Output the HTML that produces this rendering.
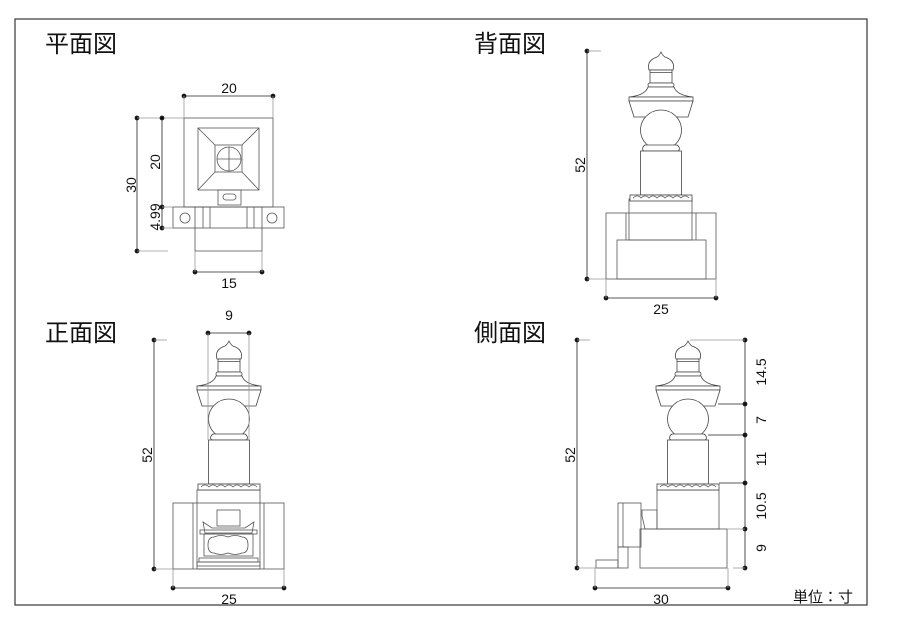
<!DOCTYPE html>
<html><head><meta charset="utf-8"><style>
html,body{margin:0;padding:0;background:#fff}
svg{display:block}
text{font-family:"Liberation Sans","Noto Sans CJK JP",sans-serif;fill:#111}
.t{font-size:24px}
.d{font-size:14px}
</style></head><body>
<svg width="900" height="637" viewBox="0 0 900 637" xmlns="http://www.w3.org/2000/svg">
<defs>
<g id="top" fill="#fff" stroke="#444" stroke-width="0.8">
<path d="M-12,19 C-14,12 -10,8 -4,6 C-2,5 -1,3 0,1 C1,3 2,5 4,6 C10,8 14,12 12,19 Z"/>
<rect x="-11" y="19" width="22" height="13"/>
<line x1="-11" y1="21.5" x2="11" y2="21.5"/>
<rect x="-13" y="32" width="26" height="4" rx="2"/>
<path d="M-13,36 C-15,42 -22,45 -32,46 L32,46 C22,45 15,42 13,36 Z"/>
<path d="M-32,46 L32,46 L32,50 L-32,50 Z"/>
<path d="M-32,50 L-27,66 L27,66 L32,50 Z"/>
<ellipse cx="0" cy="79" rx="20.5" ry="20"/>
<path d="M-16,94 L16,94 C19,96 19,99 17,100 L-17,100 C-19,99 -19,96 -16,94 Z"/>
<rect x="-20.5" y="100" width="41" height="44"/>
<rect x="-31" y="144" width="62" height="6"/>
<path d="M-28,147 q4,-4 8,0 q4,-4 8,0 q4,-4 8,0 q4,-4 8,0 q4,-4 8,0 q4,-4 8,0 q4,-4 8,0" fill="none" stroke-width="0.6"/>
</g>
</defs>
<rect x="15" y="19" width="852" height="586" fill="none" stroke="#444" stroke-width="1.3"/>
<text class="t" x="45" y="52">平面図</text>
<text class="t" x="474" y="52">背面図</text>
<text class="t" x="45" y="341">正面図</text>
<text class="t" x="474" y="341">側面図</text>
<text x="793" y="602" style="font-size:15px">単位：寸</text>

<g stroke="#555" stroke-width="0.8" fill="none">
<rect x="184" y="118" width="89" height="89"/>
<rect x="198" y="128" width="61" height="62"/>
<rect x="215" y="145" width="27" height="27"/>
<line x1="198" y1="128" x2="215" y2="145"/><line x1="259" y1="128" x2="242" y2="145"/>
<line x1="198" y1="190" x2="215" y2="172"/><line x1="259" y1="190" x2="242" y2="172"/>
<circle cx="229" cy="159" r="12"/>
<line x1="217" y1="159" x2="241" y2="159"/><line x1="229" y1="147" x2="229" y2="171"/>
<rect x="218" y="190" width="23" height="15"/>
<rect x="223" y="194" width="13" height="6" rx="3"/>
<rect x="173" y="207" width="111" height="21"/>
<circle cx="185" cy="218" r="5"/><circle cx="272" cy="218" r="5"/>
<rect x="195" y="207" width="67" height="44"/>
<line x1="203" y1="207" x2="203" y2="228"/><line x1="210" y1="207" x2="210" y2="228"/>
<line x1="247" y1="207" x2="247" y2="228"/><line x1="254" y1="207" x2="254" y2="228"/>
<rect x="606" y="213" width="110" height="66"/>
<rect x="617" y="240" width="89" height="39"/>
<rect x="629" y="199" width="63" height="41"/>
<line x1="626" y1="213" x2="626" y2="240"/><line x1="696" y1="213" x2="696" y2="240"/>
<rect x="173" y="503" width="111" height="66"/>
<rect x="197" y="490" width="63" height="79"/>
<line x1="193" y1="503" x2="193" y2="569"/><line x1="264" y1="503" x2="264" y2="569"/>
<rect x="217" y="510" width="23" height="16"/>
<path d="M203,522 L212,528 L245,528 L254,522 L252,533 L205,533 Z"/>
<rect x="200" y="530" width="57" height="4"/>
<rect x="204" y="534" width="49" height="22"/>
<path d="M214,537 q7,-3 14,0 q7,-3 14,0 q6,0 6,8 q0,8 -6,8 q-7,3 -14,0 q-7,3 -14,0 q-6,0 -6,-8 q0,-8 6,-8 Z"/>
<rect x="199" y="558" width="59" height="4"/>
<rect x="197" y="562" width="63" height="4"/>
<rect x="640" y="529" width="87" height="39"/>
<rect x="657" y="490" width="62" height="39"/>
<rect x="618" y="503" width="23" height="44"/>
<line x1="623" y1="503" x2="623" y2="547"/>
<rect x="618" y="547" width="10" height="21"/>
<rect x="596" y="560" width="22" height="8"/>
<path d="M642,510 L657,510 L657,529 L645,529 L642,516 Z"/>
</g>
<use href="#top" x="661" y="51"/>
<use href="#top" x="229" y="340"/>
<use href="#top" x="688" y="340"/>

<g stroke="#222" stroke-width="0.8" fill="#111">
<line x1="184" y1="96" x2="273" y2="96"/><circle cx="184" cy="96" r="2"/><circle cx="273" cy="96" r="2"/>
<line x1="184" y1="96" x2="184" y2="118" stroke="#999"/><line x1="273" y1="96" x2="273" y2="118" stroke="#999"/>
<line x1="137" y1="118" x2="137" y2="251"/><circle cx="137" cy="118" r="2"/><circle cx="137" cy="251" r="2"/>
<line x1="137" y1="118" x2="184" y2="118" stroke="#999"/><line x1="137" y1="251" x2="168" y2="251" stroke="#999"/>
<line x1="162" y1="118" x2="162" y2="228"/><circle cx="162" cy="118" r="2"/><circle cx="162" cy="207" r="2"/><circle cx="162" cy="228" r="2"/>
<line x1="162" y1="207" x2="173" y2="207" stroke="#999"/><line x1="162" y1="228" x2="173" y2="228" stroke="#999"/>
<line x1="195" y1="272" x2="262" y2="272"/><circle cx="195" cy="272" r="2"/><circle cx="262" cy="272" r="2"/>
<line x1="195" y1="251" x2="195" y2="272" stroke="#999"/><line x1="262" y1="251" x2="262" y2="272" stroke="#999"/>
<line x1="587" y1="51" x2="587" y2="279"/><circle cx="587" cy="51" r="2"/><circle cx="587" cy="279" r="2"/>
<line x1="587" y1="51" x2="601" y2="51" stroke="#999"/><line x1="587" y1="279" x2="606" y2="279" stroke="#999"/>
<line x1="606" y1="298" x2="716" y2="298"/><circle cx="606" cy="298" r="2"/><circle cx="716" cy="298" r="2"/>
<line x1="606" y1="279" x2="606" y2="298" stroke="#999"/><line x1="716" y1="279" x2="716" y2="298" stroke="#999"/>
<line x1="208" y1="333" x2="249" y2="333"/><circle cx="208" cy="333" r="2"/><circle cx="249" cy="333" r="2"/>
<line x1="208" y1="333" x2="208" y2="440" stroke="#999"/><line x1="249" y1="333" x2="249" y2="440" stroke="#999"/>
<line x1="154" y1="340" x2="154" y2="569"/><circle cx="154" cy="340" r="2"/><circle cx="154" cy="569" r="2"/>
<line x1="154" y1="340" x2="167" y2="340" stroke="#999"/><line x1="154" y1="569" x2="173" y2="569" stroke="#999"/>
<line x1="173" y1="588" x2="284" y2="588"/><circle cx="173" cy="588" r="2"/><circle cx="284" cy="588" r="2"/>
<line x1="173" y1="569" x2="173" y2="588" stroke="#999"/><line x1="284" y1="569" x2="284" y2="588" stroke="#999"/>
<line x1="577" y1="340" x2="577" y2="568"/><circle cx="577" cy="340" r="2"/><circle cx="577" cy="568" r="2"/>
<line x1="577" y1="340" x2="590" y2="340" stroke="#999"/><line x1="577" y1="568" x2="596" y2="568" stroke="#999"/>
<line x1="745" y1="340" x2="745" y2="568"/>
<circle cx="745" cy="340" r="2"/><circle cx="745" cy="404" r="2"/><circle cx="745" cy="435" r="2"/><circle cx="745" cy="483" r="2"/><circle cx="745" cy="529" r="2"/><circle cx="745" cy="568" r="2"/>
<line x1="690" y1="340" x2="745" y2="340" stroke="#999"/>
<line x1="718" y1="404" x2="745" y2="404"/>
<line x1="708" y1="435" x2="745" y2="435"/>
<line x1="719" y1="483" x2="745" y2="483"/>
<line x1="727" y1="529" x2="745" y2="529" stroke="#999"/>
<line x1="733" y1="568" x2="745" y2="568" stroke="#999"/>
<line x1="595" y1="588" x2="728" y2="588"/><circle cx="595" cy="588" r="2"/><circle cx="728" cy="588" r="2"/>
<line x1="595" y1="568" x2="595" y2="588" stroke="#999"/><line x1="728" y1="568" x2="728" y2="588" stroke="#999"/>
</g>

<g class="d">
<text x="229" y="93" text-anchor="middle">20</text>
<text x="229" y="288" text-anchor="middle">15</text>
<text transform="translate(136,185) rotate(-90)" text-anchor="middle">30</text>
<text transform="translate(160,162) rotate(-90)" text-anchor="middle">20</text>
<text transform="translate(160,217) rotate(-90)" text-anchor="middle">4.99</text>
<text transform="translate(585,165) rotate(-90)" text-anchor="middle">52</text>
<text x="661" y="314" text-anchor="middle">25</text>
<text x="229" y="320" text-anchor="middle">9</text>
<text transform="translate(152,455) rotate(-90)" text-anchor="middle">52</text>
<text x="229" y="604" text-anchor="middle">25</text>
<text transform="translate(575,455) rotate(-90)" text-anchor="middle">52</text>
<text x="661" y="604" text-anchor="middle">30</text>
<text transform="translate(766,372) rotate(-90)" text-anchor="middle">14.5</text>
<text transform="translate(766,420) rotate(-90)" text-anchor="middle">7</text>
<text transform="translate(766,459) rotate(-90)" text-anchor="middle">11</text>
<text transform="translate(766,506) rotate(-90)" text-anchor="middle">10.5</text>
<text transform="translate(766,548) rotate(-90)" text-anchor="middle">9</text>
</g>
</svg>
</body></html>
